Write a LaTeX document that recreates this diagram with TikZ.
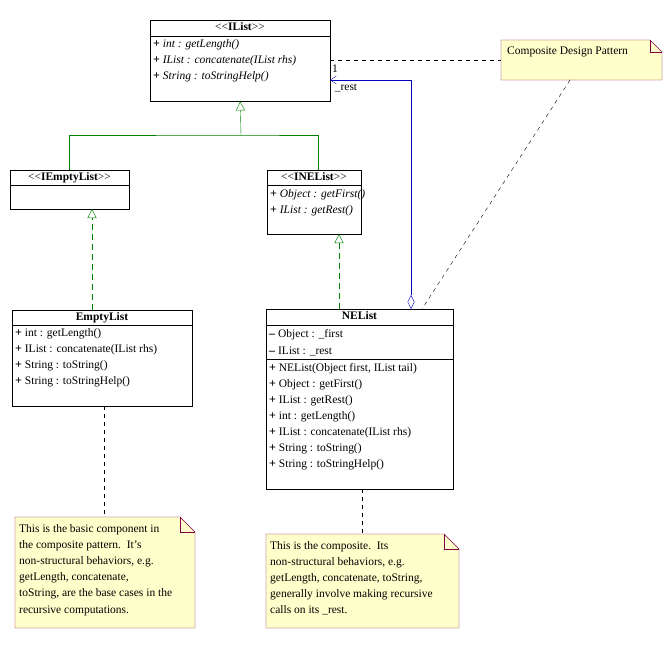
\documentclass[tikz,border=0pt]{standalone}
\usepackage{fontspec}
\setmainfont{Liberation Serif}
\usetikzlibrary{arrows.meta,calc}
\definecolor{umlGreen}{RGB}{0,128,0}
\definecolor{umlBlue}{RGB}{0,0,190}
\definecolor{noteFill}{RGB}{255,255,204}
\definecolor{noteLine}{RGB}{128,0,64}
\tikzset{
  box/.style={draw, anchor=north west, inner sep=0pt},
  title/.style={anchor=north, font=\fontsize{11.5}{12}\selectfont\bfseries, inner sep=1pt},
  member/.style={anchor=west, font=\fontsize{11.5}{12}\selectfont, inner sep=0pt},
  gen/.style={umlGreen, -{Triangle[open, length=9pt, width=9pt]}},
  real/.style={umlGreen, dashed, dash pattern=on 6pt off 4pt, -{Triangle[open, length=9pt, width=9pt]}},
  link/.style={dashed, dash pattern=on 4pt off 4pt},
  note/.style={draw=noteLine, fill=noteFill},
  notetext/.style={anchor=north west, align=left, font=\fontsize{11.5}{16.2}\selectfont, inner sep=0pt}
}
\newcommand{\pl}{{\large\textbf{+}}\ }
\newcommand{\mi}{{\large\textbf{\textendash}}\ }
\newcommand{\st}[1]{\textmd{{<}{<}}#1\textmd{{>}{>}}}
\begin{document}
\begin{tikzpicture}[x=1pt, y=-1pt]
\useasboundingbox (0,0) rectangle (672,648);
% IList
\node[box, minimum width=180pt, minimum height=81pt] (ilist) at (150,20) {};
\node[title] at (240,21) {\st{IList}};
\draw (150,36) -- (330,36);
\node[member] at (153,45) {\pl\itshape int : getLength()};
\node[member] at (153,61) {\pl\itshape IList : concatenate(IList rhs)};
\node[member] at (153,77) {\pl\itshape String : toStringHelp()};
% IEmptyList
\node[box, minimum width=119pt, minimum height=39pt] (iempty) at (10,170) {};
\node[title] at (69.5,171) {\st{IEmptyList}};
\draw (10,185) -- (129,185);
% INEList
\node[box, minimum width=94pt, minimum height=64pt] (inelist) at (267,170) {};
\node[title] at (314,171) {\st{INEList}};
\draw (267,185) -- (361,185);
\node[member] at (270,195) {\pl\itshape Object : getFirst()};
\node[member] at (270,211) {\pl\itshape IList : getRest()};
% EmptyList
\node[box, minimum width=180pt, minimum height=96pt] (empty) at (12,310) {};
\node[title] at (102,311) {EmptyList};
\draw (12,325) -- (192,325);
\node[member] at (15,334) {\pl int : getLength()};
\node[member] at (15,350) {\pl IList : concatenate(IList rhs)};
\node[member] at (15,366) {\pl String : toString()};
\node[member] at (15,382) {\pl String : toStringHelp()};
% NEList
\node[box, minimum width=187pt, minimum height=180pt] (nelist) at (266,309) {};
\node[title] at (359.5,310) {NEList};
\draw (266,325) -- (453,325);
\node[member] at (269,335) {\mi Object : \_first};
\node[member] at (269,351) {\mi IList : \_rest};
\draw (266,359) -- (453,359);
\foreach \t [count=\i from 0] in {{NEList(Object first, IList tail)}, Object : getFirst(), IList : getRest(), int : getLength(), IList : concatenate(IList rhs), String : toString(), String : toStringHelp()}
  \node[member] at (269,369+16*\i) {\pl \t};
% notes
\draw[note] (501,40) -- (650,40) -- (662,52) -- (662,80) -- (501,80) -- cycle;
\draw[noteLine] (650,40) -- (650,52) -- (662,52);
\node[notetext] (pattern) at (507,47) {Composite Design Pattern};
\draw[note] (15,517) -- (180,517) -- (195,532) -- (195,628) -- (15,628) -- cycle;
\draw[noteLine] (180,517) -- (180,532) -- (195,532);
\node[notetext] (basenote) at (19,524) {This is the basic component in\\the composite pattern.\ \ It's\\non-structural behaviors, e.g.\\getLength, concatenate,\\toString, are the base cases in the\\recursive computations.};
\draw[note] (266,534) -- (444,534) -- (459,549) -- (459,628) -- (266,628) -- cycle;
\draw[noteLine] (444,534) -- (444,549) -- (459,549);
\node[notetext] (compnote) at (270,541) {This is the composite.\ \ Its\\non-structural behaviors, e.g.\\getLength, concatenate, toString,\\generally involve making recursive\\calls on its \_rest.};
% inheritance
\draw[umlGreen] (iempty.north -| 69,0) |- (241,135) -| (318,170);
\draw[gen] (241,135) -- (ilist.south);
\draw[real] (92,310) -- (92,209);
\draw[real] (339,309) -- (339,234);
% composition
\draw[umlBlue, {Diamond[open, length=14pt, width=7pt]}-{Straight Barb[length=6pt, width=8pt]}] (411,309) |- (330,80);
\node[font=\fontsize{11.5}{12}\selectfont, inner sep=0pt] at (335,69) {1};
\node[font=\fontsize{11.5}{12}\selectfont, inner sep=0pt] at (346,88) {\_rest};
% note links
\draw[link] (330,60) -- (501,60);
\draw[link] (570,80) -- (422,309);
\draw[link] (104,406) -- (104,517);
\draw[link] (362,489) -- (362,534);
\end{tikzpicture}
\end{document}
